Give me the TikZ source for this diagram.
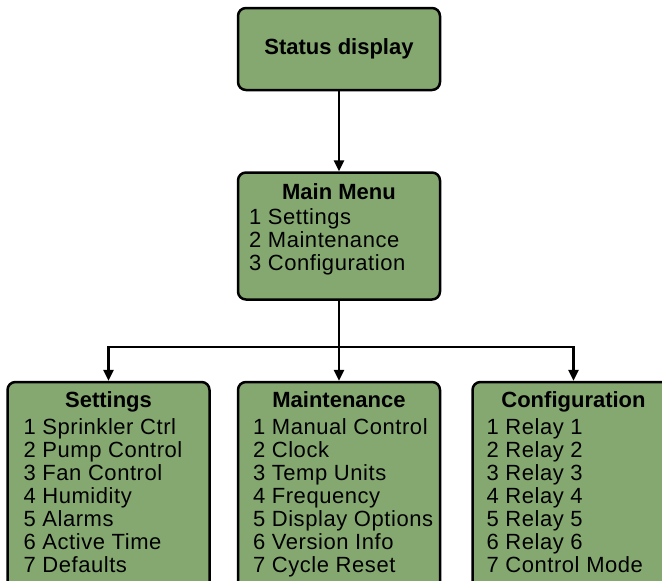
\documentclass[tikz,border=0pt]{standalone}
\usepackage{fontspec}
\setmainfont{Liberation Sans}
\newfontfamily\itemfont{Liberation Sans}[LetterSpace=2.5]
\usetikzlibrary{arrows.meta,positioning}
\definecolor{menugreen}{RGB}{133,168,113}

\begin{document}
\begin{tikzpicture}[x=1pt,y=-1pt,>={Triangle[length=11pt,width=10pt]},line width=2.5pt,
  menubox/.style={draw=black,fill=menugreen,rounded corners=8pt,minimum width=202pt,inner sep=0pt},
  boxtitle/.style={font=\fontsize{22}{23}\selectfont\bfseries,inner sep=0pt,anchor=base},
  itemlist/.style={font=\fontsize{22}{23}\selectfont\itemfont,align=left,inner sep=0pt,anchor=north west}]
  \useasboundingbox (0,0) rectangle (662,581);

  % Kopf und Hauptmenue
  \node[menubox,minimum height=82pt,font=\fontsize{22}{23}\selectfont\bfseries] (status) at (339,49) {Status display};
  \node[menubox,minimum height=127pt,below=80pt of status] (main) {};
  \node[boxtitle] (mainT) at ([yshift=-28pt]main.north) {Main Menu};
  \node[itemlist] (mainL) at ([xshift=11pt,yshift=-36pt]main.north west)
    {1 Settings\\2 Maintenance\\3 Configuration};

  % Untermenues
  \node[menubox,minimum height=230pt,below=80pt of main] (maint) {};
  \node[menubox,minimum height=230pt,left=26pt of maint] (settings) {};
  \node[menubox,minimum height=230pt,right=30pt of maint] (config) {};
  \foreach \nm/\ttl in {settings/Settings,maint/Maintenance,config/Configuration}
    \node[boxtitle] (\nm T) at ([yshift=-27pt]\nm.north) {\ttl};

  \node[itemlist] (settingsL) at ([xshift=16pt,yshift=-37pt]settings.north west)
    {1 Sprinkler Ctrl\\2 Pump Control\\3 Fan Control\\4 Humidity\\5 Alarms\\6 Active Time\\7 Defaults};
  \node[itemlist] (maintL) at ([xshift=15pt,yshift=-37pt]maint.north west)
    {1 Manual Control\\2 Clock\\3 Temp Units\\4 Frequency\\5 Display Options\\6 Version Info\\7 Cycle Reset};
  \node[itemlist] (configL) at ([xshift=14pt,yshift=-37pt]config.north west)
    {1 Relay 1\\2 Relay 2\\3 Relay 3\\4 Relay 4\\5 Relay 5\\6 Relay 6\\7 Control Mode};

  % Verbindungen
  \coordinate (split) at ([yshift=-46pt]main.south);
  \draw[->] (status) -- (main);
  \draw[->] (main) -- (split) -| (settings);
  \draw[->] (split) -| (config);
  \draw[->] (split) -- (maint);
\end{tikzpicture}
\end{document}
